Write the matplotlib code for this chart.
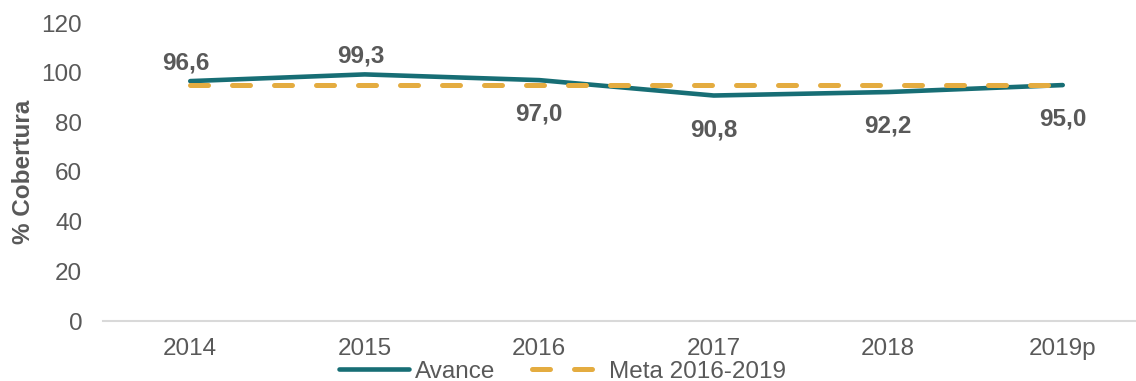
import matplotlib
matplotlib.use("Agg")
import matplotlib.pyplot as plt

# data
years = ["2014", "2015", "2016", "2017", "2018", "2019p"]
avance = [96.6, 99.3, 97.0, 90.8, 92.2, 95.0]
meta = [95, 95, 95, 95, 95, 95]
labels = ["96,6", "99,3", "97,0", "90,8", "92,2", "95,0"]
label_above = [True, True, False, False, False, False]

TEAL = "#176E75"
GOLD = "#E4AC40"
TXT = "#595959"
FS = 17.5

plt.rcParams["font.family"] = ["Liberation Sans", "DejaVu Sans"]

fig = plt.figure(figsize=(11.36, 3.81), dpi=100)
ax = fig.add_axes([103 / 1136, 60 / 381, 1033 / 1136, 298 / 381])

x = list(range(len(years)))
ax.plot(x, avance, color=TEAL, lw=3.3, solid_capstyle="round",
        solid_joinstyle="round", label="Avance", zorder=3)
ax.plot(x, meta, color=GOLD, lw=3.6, dashes=(3.6, 4.8),
        dash_capstyle="round", label="Meta 2016-2019", zorder=4)

for xi, v, s, up in zip(x, avance, labels, label_above):
    dy = 13 if up else -24.5
    ax.annotate(s, (xi, v), xytext=(-3 if up else 0, dy),
                textcoords="offset points", ha="center", va="center",
                fontsize=FS, fontweight="bold", color=TXT)

ax.set_xlim(-0.5, 5.42)
ax.set_ylim(0, 120)
ax.set_yticks(range(0, 121, 20))
ax.set_xticks(x)
ax.set_xticklabels(years)
ax.tick_params(axis="both", length=0, labelsize=FS, labelcolor=TXT)
ax.tick_params(axis="y", pad=15)
ax.tick_params(axis="x", pad=12.5)

for side in ["top", "right", "left"]:
    ax.spines[side].set_visible(False)
ax.spines["bottom"].set_color("#D9D9D9")
ax.spines["bottom"].set_linewidth(1.5)

ax.set_ylabel("% Cobertura", fontsize=FS, fontweight="bold", color=TXT)
ax.yaxis.set_label_coords(-0.066, 0.5)

fig.legend(loc="center", bbox_to_anchor=(0.495, 0.024), ncol=2, frameon=False,
           fontsize=FS, labelcolor=TXT, handlelength=2.9,
           handletextpad=0.25, columnspacing=1.5, borderaxespad=0)

fig.savefig("out.png", dpi=100)
